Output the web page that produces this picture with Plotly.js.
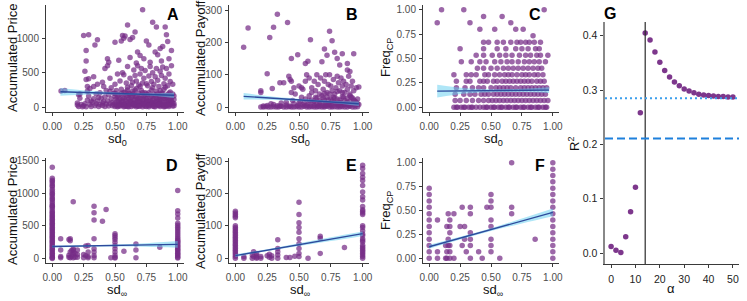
<!DOCTYPE html>
<html><head><meta charset="utf-8">
<script src="https://cdn.plot.ly/plotly-3.0.1.min.js"></script>
<style>html,body{margin:0;padding:0;background:#fff}#chart{width:747px;height:301px}</style>
</head><body><div id="chart"></div>
<script>
// ---------------- DATA ----------------
// Panel A: [sd0, accumulated price]
const priceBySd0 = [
[0.07,235],[0.10,240],[0.20,30],[0.20,60],[0.21,10],[0.22,130],[0.22,190],[0.21,180],
[0.25,20],[0.26,50],[0.27,5],[0.28,100],[0.28,230],[0.29,160],[0.30,40],[0.30,270],[0.31,10],[0.32,70],[0.33,120],[0.33,300],[0.34,20],[0.35,50],[0.35,190],[0.36,90],[0.37,10],[0.38,40],[0.38,210],[0.39,130],[0.40,25],[0.40,60],[0.41,300],[0.42,10],[0.42,150],[0.43,45],[0.43,240],[0.44,90],[0.45,15],[0.45,180],[0.46,50],[0.47,120],[0.47,280],[0.48,20],[0.48,70],[0.49,200],
[0.50,10],[0.50,60],[0.50,150],[0.51,30],[0.51,240],[0.52,90],[0.52,5],[0.53,40],[0.53,180],[0.54,120],[0.54,15],[0.55,70],[0.55,260],[0.56,30],[0.56,140],[0.57,5],[0.57,210],[0.58,50],[0.58,100],[0.59,20],[0.59,170],[0.60,60],[0.60,8],[0.60,250],[0.61,120],[0.61,35],[0.62,80],[0.62,190],[0.63,10],[0.63,140],[0.64,45],[0.64,230],[0.65,100],[0.65,20],[0.66,60],[0.66,160],[0.67,5],[0.67,270],[0.68,110],[0.68,35],[0.69,200],[0.69,75],[0.70,15],[0.70,130],[0.71,50],[0.71,240],[0.72,90],[0.72,5],[0.73,160],[0.73,30],[0.74,60],[0.74,210],[0.75,10],[0.75,120],[0.76,40],[0.76,180],[0.77,80],[0.77,5],[0.78,140],[0.78,30],[0.79,250],[0.79,60],[0.80,100],[0.80,15],[0.81,190],[0.81,45],[0.82,70],[0.82,5],[0.83,130],[0.83,230],[0.84,25],[0.84,90],[0.85,170],[0.85,50],[0.86,10],[0.86,110],[0.87,200],[0.87,35],[0.88,70],[0.88,150],[0.89,5],[0.89,260],[0.90,40],[0.90,120],[0.91,80],[0.91,20],[0.92,180],[0.92,55],[0.93,10],[0.93,100],[0.94,220],[0.94,35],[0.95,140],[0.95,70],[0.96,15],[0.96,190],[0.97,50],[0.97,110],
[0.52,25],[0.58,12],[0.62,45],[0.66,28],[0.70,40],[0.74,18],[0.78,55],[0.82,38],[0.86,62],[0.90,8],[0.94,60],[0.55,40],[0.65,55],[0.75,75],[0.85,25],[0.68,15],[0.72,65],[0.80,35],[0.88,25],[0.92,30],
[0.50,200],[0.51,120],[0.52,160],[0.53,100],[0.54,60],[0.55,200],[0.56,80],[0.57,130],[0.58,220],[0.59,90],[0.60,170],[0.61,200],[0.62,110],[0.63,70],[0.64,170],[0.65,200],[0.66,110],[0.67,150],[0.68,70],[0.69,130],[0.70,90],[0.71,170],[0.72,210],[0.73,110],[0.74,140],[0.75,190],[0.76,90],[0.77,210],[0.78,100],[0.79,160],[0.80,60],[0.81,120],[0.82,160],[0.83,80],[0.84,190],[0.85,110],[0.86,150],[0.87,90],[0.88,200],[0.89,130],[0.90,170],[0.91,140],[0.92,100],[0.93,200],[0.94,130],[0.95,100],[0.96,60],[0.97,160],[0.53,15],[0.57,35],[0.61,5],[0.65,38],[0.69,12],[0.73,48],[0.77,22],[0.81,8],[0.85,40],[0.89,45],[0.93,30],[0.97,20],[0.23,40],[0.24,5],[0.31,90],[0.37,140],[0.41,80],[0.46,230],[0.49,40],[0.28,300],[0.60,290],[0.70,300],[0.80,280],[0.90,290],[0.66,250],[0.86,240],
[0.27,400],[0.29,410],[0.33,440],[0.36,330],[0.40,360],[0.42,560],[0.44,600],[0.46,420],[0.50,330],[0.52,480],[0.54,380],[0.56,500],[0.57,470],[0.59,350],[0.60,590],[0.62,420],[0.63,310],[0.65,540],[0.66,460],[0.67,380],[0.68,600],[0.69,320],[0.70,480],[0.71,560],[0.72,350],[0.73,420],[0.74,530],[0.76,310],[0.77,450],[0.78,590],[0.79,370],[0.80,500],[0.81,330],[0.82,440],[0.83,560],[0.84,390],[0.85,300],[0.86,520],[0.87,460],[0.88,580],[0.89,340],[0.90,420],[0.91,560],[0.92,310],[0.93,480],[0.94,370],[0.95,600],[0.96,330],[0.75,340],[0.64,360],
[0.25,1040],[0.29,1050],[0.27,820],[0.34,900],[0.36,975],[0.27,670],[0.26,520],[0.44,700],[0.45,650],[0.50,940],[0.55,960],[0.56,1040],[0.57,1000],[0.58,1030],[0.60,1190],[0.62,980],[0.64,1010],[0.66,1090],[0.68,800],[0.70,750],[0.72,1410],[0.73,700],[0.75,960],[0.78,650],[0.80,1230],[0.82,800],[0.83,1160],[0.84,760],[0.86,850],[0.88,880],[0.90,1160],[0.91,1050],[0.93,700],[0.95,820],[0.62,720],[0.53,680],[0.67,640],[0.77,900],[0.87,670],[0.92,950]
];
// Panel B: [sd0, accumulated payoff]
const payoffBySd0 = [
[0.065,185],[0.10,245],[0.27,215],[0.30,247],[0.33,287],[0.41,262],[0.25,103],[0.44,150],[0.49,162],[0.55,135],[0.57,142],[0.59,208],[0.68,140],[0.70,180],[0.72,160],[0.74,235],[0.76,205],[0.78,170],[0.80,150],[0.82,130],[0.84,165],[0.88,135],[0.93,165],[0.88,115],[0.90,110],
[0.20,50],[0.20,45],[0.29,57],[0.35,75],[0.38,75],[0.42,95],[0.43,85],[0.44,80],[0.44,45],[0.47,40],[0.50,65],[0.52,60],[0.53,55],[0.55,80],[0.56,100],[0.58,90],[0.60,60],[0.62,80],[0.63,50],[0.65,70],[0.66,40],[0.67,90],[0.69,55],[0.70,80],[0.71,100],[0.72,45],[0.73,70],[0.74,100],[0.75,65],[0.76,50],[0.77,85],[0.78,40],[0.79,60],[0.80,95],[0.81,75],[0.82,50],[0.83,90],[0.84,65],[0.85,80],[0.86,45],[0.87,70],[0.88,55],[0.89,95],[0.90,40],[0.91,65],[0.92,80],[0.93,50],[0.95,60],[0.97,62],[0.64,100],[0.46,60],
[0.20,0],[0.22,0],[0.24,1],[0.26,0],[0.28,0],[0.30,1],[0.32,0],[0.34,0],[0.36,2],[0.38,0],[0.40,0],[0.42,1],[0.44,0],[0.46,0],[0.48,1],[0.50,0],[0.52,0],[0.54,2],[0.56,0],[0.58,0],[0.60,1],[0.62,0],[0.64,0],[0.66,1],[0.68,0],[0.70,0],[0.72,2],[0.74,0],[0.76,0],[0.78,1],[0.80,0],[0.82,0],[0.84,1],[0.86,0],[0.88,0],[0.90,2],[0.92,0],[0.94,0],[0.96,1],
[0.25,5],[0.30,8],[0.33,4],[0.36,12],[0.40,6],[0.43,3],[0.46,10],[0.49,5],[0.51,18],[0.53,7],[0.55,25],[0.57,10],[0.59,4],[0.61,15],[0.63,30],[0.64,8],[0.66,20],[0.68,5],[0.69,28],[0.71,12],[0.73,22],[0.74,6],[0.76,18],[0.77,30],[0.79,10],[0.80,25],[0.81,4],[0.83,15],[0.84,32],[0.85,8],[0.86,20],[0.87,12],[0.88,28],[0.89,5],[0.90,18],[0.91,30],[0.92,10],[0.93,22],[0.94,6],[0.95,15],[0.96,25],[0.97,8],[0.58,20],[0.62,5],[0.66,10],[0.70,3],[0.75,8],[0.82,12],[0.72,30],[0.78,15],
[0.52,30],[0.54,12],[0.56,5],[0.58,35],[0.60,22],[0.62,18],[0.64,28],[0.65,3],[0.67,15],[0.68,35],[0.70,20],[0.71,5],[0.73,10],[0.75,25],[0.76,3],[0.78,28],[0.80,10],[0.82,22],[0.83,4],[0.85,30],[0.86,8],[0.88,15],[0.90,6],[0.92,28],[0.94,18],[0.96,10],[0.50,12],[0.45,20],[0.40,15],[0.35,3],[0.28,10],[0.22,3],[0.60,45],[0.70,42],[0.80,48],[0.90,35],[0.74,40],[0.84,45]
];
// Panel C: rows of [FreqCP, sd0 values]
const freqRowsBySd0 = [
[0,[0.20,0.23,0.26,0.29,0.32,0.35,0.38,0.41,0.44,0.47,0.50,0.53,0.56,0.59,0.62,0.65,0.68,0.71,0.74,0.77,0.80,0.83,0.86,0.89,0.92,0.95,0.22,0.28,0.34,0.46,0.52,0.58,0.64,0.70,0.76,0.82,0.88,0.94]],
[0.067,[0.21,0.25,0.30,0.35,0.40,0.44,0.48,0.51,0.54,0.57,0.60,0.63,0.66,0.69,0.72,0.75,0.78,0.81,0.84,0.87,0.90,0.93,0.96]],
[0.133,[0.21,0.28,0.33,0.37,0.42,0.45,0.48,0.52,0.55,0.58,0.61,0.64,0.67,0.70,0.73,0.76,0.79,0.82,0.85,0.88,0.91,0.94]],
[0.2,[0.22,0.29,0.35,0.40,0.44,0.50,0.54,0.57,0.60,0.63,0.66,0.70,0.74,0.77,0.80,0.83,0.86,0.89,0.92,0.95]],
[0.267,[0.22,0.30,0.33,0.41,0.44,0.47,0.52,0.55,0.59,0.62,0.65,0.68,0.71,0.74,0.77,0.80,0.83,0.87,0.90,0.93]],
[0.333,[0.20,0.30,0.34,0.38,0.45,0.48,0.53,0.57,0.61,0.64,0.67,0.71,0.75,0.78,0.81,0.85,0.88,0.92]],
[0.4,[0.39,0.44,0.50,0.55,0.60,0.64,0.68,0.72,0.76,0.80,0.84,0.88,0.91]],
[0.467,[0.26,0.34,0.41,0.46,0.53,0.58,0.63,0.67,0.72,0.77,0.81,0.85,0.89,0.94]],
[0.533,[0.38,0.44,0.51,0.57,0.62,0.67,0.73,0.78,0.82,0.87,0.90,0.96]],
[0.6,[0.25,0.44,0.55,0.62,0.70,0.75,0.80,0.86,0.89]],
[0.667,[0.44,0.48,0.55,0.60,0.66,0.71,0.74,0.78,0.81,0.85,0.90]],
[0.733,[0.84]],
[0.8,[0.41,0.53,0.70,0.76]],
[0.867,[0.065,0.33,0.66]],
[0.933,[0.44,0.59]],
[1,[0.10,0.28,0.93]]
];
// Panel D: columns of [sdInf, price values]
const priceColsBySdInf = [
[0,[1400,1230,1200,1180,1150,1120,1100,1060,1030,1000,980,950,920,900,870,840,810,800,780,750,720,700,680,660,640,620,600,580,560,540,520,500,480,460,440,420,400,380,360,340,320,300,280,260,240,220,200,180,160,140,120,100,80,60,40,20,10,0]],
[0.067,[300,130,30,10]],[0.133,[290,50,20]],[0.143,[300,270,100,10]],[0.154,[30,120]],[0.167,[870,150,130,90,60,10]],[0.182,[80,20]],[0.2,[130,60,20]],[0.25,[60,10]],[0.267,[190,40]],[0.286,[200,100,30,10]],[0.333,[800,700,590,300,150,100,40,10]],[0.4,[570]],[0.429,[750]],[0.467,[10]],[0.5,[380,350,320,290,250,200,150,100,50,20,5]],[0.571,[110]],[0.667,[220,130,10]],[0.857,[170]],
[1,[1040,730,680,620,540,510,480,450,420,390,360,330,300,280,260,240,220,200,180,160,140,120,100,80,60,40,20,5]]
];
// Panel E: columns of [sdInf, payoff values]
const payoffColsBySdInf = [
[0,[145,140,135,130,125,100,95,90,85,80,75,70,65,60,55,50,45,40,35,30,25,20,15,10,5,0]],
[0.067,[5,0]],[0.133,[10,0]],[0.143,[20,5]],[0.167,[15,8,3,0]],[0.2,[5,0]],[0.25,[8]],[0.267,[3,12]],[0.286,[8,0]],[0.333,[57,30,20,10,0]],[0.4,[2]],[0.429,[2]],[0.467,[6]],[0.5,[173,135,110,95,80,60,45,30,15,5]],[0.571,[0]],[0.667,[68,62,15]],[0.857,[33]],
[1,[287,277,262,250,240,225,205,190,180,160,150,145,140,135,100,95,85,75,70,60,55,50,40,35,30,25,20,15,10,5,0]]
];
// Panel F: columns of [sdInf, FreqCP values]
const freqColsBySdInf = [
[0,[0.733,0.667,0.6,0.533,0.467,0.4,0.333,0.267,0.2,0.133,0.067,0]],
[0.067,[0.4,0.067,0]],[0.133,[0.133,0]],[0.143,[0.333,0.067,0]],[0.154,[0.467,0.2,0.133]],[0.167,[0.4,0.333,0.267,0.133,0.067,0]],[0.2,[0.467,0]],[0.25,[0.333]],[0.267,[0.533,0.133]],[0.286,[0.333,0.2]],[0.3,[0.067]],[0.333,[0.533,0.467,0.267,0.2,0.133,0]],[0.4,[0.067]],[0.429,[0]],[0.467,[0.533]],[0.5,[0.667,0.6,0.533,0.4,0.333,0.2,0.133,0.067]],[0.571,[0]],[0.667,[1,0.533,0.467]],[0.857,[0.2]],
[1,[1,0.933,0.867,0.8,0.733,0.667,0.6,0.533,0.467,0.4,0.333,0.267,0.2,0.133,0.067,0]]
];
// Linear fits (line + confidence band)
const fitXsd0 = [0.065,0.3,0.55,0.75,0.97];
const fitXsdInf = [0,0.25,0.5,0.75,1];
const fitA = {mid:[222,209,195,184,172], lo:[165,182,181,168,134], hi:[279,236,209,200,210]};
const fitB = {mid:[33,27,20.7,15.6,10], lo:[23,22,17,12,3], hi:[43,32,24.5,19.5,17]};
const fitC = {mid:[0.165,0.168,0.17,0.172,0.175], lo:[0.10,0.14,0.155,0.155,0.145], hi:[0.23,0.195,0.185,0.19,0.205]};
const fitD = {mid:[182,190,199,207,216], lo:[166,178,183,180,165], hi:[198,202,215,234,267]};
const fitE = {mid:[8,25,42,59,76], lo:[4,22,38,53,69], hi:[12,28,46,65,83]};
const fitF = {mid:[0.12,0.21,0.30,0.39,0.48], lo:[0.10,0.195,0.285,0.365,0.44], hi:[0.14,0.225,0.315,0.415,0.52]};
// Panel G
const alphaVals = [0,2,4,6,8,10,12,14,16,18,20,22,24,26,28,30,32,34,36,38,40,42,44,46,48,50];
const r2Vals = [0.012,0.005,0.001,0.030,0.076,0.121,0.258,0.405,0.392,0.370,0.351,0.336,0.324,0.315,0.308,0.302,0.298,0.295,0.292,0.291,0.290,0.289,0.288,0.288,0.287,0.287];
const alphaBest = 14;
const r2Dotted = 0.285;
const r2Dashed = 0.211;
// Tick labels
const sdTicks = [0,0.25,0.5,0.75,1];
const sdTickText = ['0.00','0.25','0.50','0.75','1.00'];

// ---------------- BUILD ----------------
const W = 747, H = 301;
const PURPLE = 'rgba(118,44,134,0.72)';
const FONT = 'Liberation Sans, Arial, Helvetica, sans-serif';
const px = (a,b) => [a/W, b/W];
const py = (top,bot) => [1-bot/H, 1-top/H];

function fromPairs(p){ return {x:p.map(d=>d[0]), y:p.map(d=>d[1])}; }
function fromRows(rows){ const x=[],y=[]; rows.forEach(r=>r[1].forEach(v=>{x.push(v);y.push(r[0]);})); return {x,y}; }
function fromCols(cols){ const x=[],y=[]; cols.forEach(c=>c[1].forEach(v=>{x.push(c[0]);y.push(v);})); return {x,y}; }

const traces = [];
function addPanel(n, pts, fx, fit){
  const xa = 'x'+(n===1?'':n), ya = 'y'+(n===1?'':n);
  traces.push({type:'scatter',mode:'markers',x:pts.x,y:pts.y,xaxis:xa,yaxis:ya,
    marker:{color:PURPLE,size:5.5,line:{width:0}},hoverinfo:'skip',showlegend:false,cliponaxis:false});
  traces.push({type:'scatter',mode:'lines',x:fx,y:fit.lo,xaxis:xa,yaxis:ya,line:{width:0,shape:'spline'},showlegend:false,hoverinfo:'skip'});
  traces.push({type:'scatter',mode:'lines',x:fx,y:fit.hi,xaxis:xa,yaxis:ya,line:{width:0,shape:'spline'},fill:'tonexty',fillcolor:'rgba(95,205,240,0.5)',showlegend:false,hoverinfo:'skip'});
  traces.push({type:'scatter',mode:'lines',x:fx,y:fit.mid,xaxis:xa,yaxis:ya,line:{color:'#2D4A9C',width:1.4},showlegend:false,hoverinfo:'skip'});
}
addPanel(1, fromPairs(priceBySd0), fitXsd0, fitA);
addPanel(2, fromPairs(payoffBySd0), fitXsd0, fitB);
addPanel(3, fromRows(freqRowsBySd0), fitXsd0, fitC);
addPanel(4, fromCols(priceColsBySdInf), fitXsdInf, fitD);
addPanel(5, fromCols(payoffColsBySdInf), fitXsdInf, fitE);
addPanel(6, fromCols(freqColsBySdInf), fitXsdInf, fitF);
traces.push({type:'scatter',mode:'markers',x:alphaVals,y:r2Vals,xaxis:'x7',yaxis:'y7',
  marker:{color:'rgba(118,44,134,0.95)',size:5.5},showlegend:false,hoverinfo:'skip',cliponaxis:false});

const axBase = {showgrid:false,zeroline:false,showline:true,linecolor:'#3a3a3a',linewidth:1,
  ticks:'outside',ticklen:3,tickwidth:1,tickcolor:'#3a3a3a',
  tickfont:{family:FONT,size:10,color:'#4d4d4d'},fixedrange:true};
function xax(dom, anchor, extra){ return Object.assign({},axBase,{domain:dom,anchor:anchor,range:[-0.05,1.05],tickvals:sdTicks,ticktext:sdTickText,ticklabelstandoff:2},extra||{}); }
function yax(dom, anchor, range, extra){ return Object.assign({},axBase,{domain:dom,anchor:anchor,range:range,ticklabelstandoff:1},extra||{}); }

const colX = {A:px(46,184), B:px(229,369), C:px(423,559), G:px(605,739)};
const topY = py(5,112), botY = py(158,263);

const layout = {
  width:W,height:H,margin:{l:0,r:0,t:0,b:0},paper_bgcolor:'#fff',plot_bgcolor:'rgba(0,0,0,0)',
  font:{family:FONT},showlegend:false,
  xaxis: xax(colX.A,'y'), yaxis: yax(topY,'x',[-70.5,1480.5],{tickvals:[0,500,1000]}),
  xaxis2: xax(colX.B,'y2'), yaxis2: yax(topY,'x2',[-15.5,316],{tickvals:[0,100,200,300]}),
  xaxis3: xax(colX.C,'y3'), yaxis3: yax(topY,'x3',[-0.05,1.05],{tickvals:sdTicks,ticktext:sdTickText}),
  xaxis4: xax(colX.A,'y4'), yaxis4: yax(botY,'x4',[-70,1540],{tickvals:[0,500,1000,1500]}),
  xaxis5: xax(colX.B,'y5'), yaxis5: yax(botY,'x5',[-14.7,309.7],{tickvals:[0,100,200,300]}),
  xaxis6: xax(colX.C,'y6'), yaxis6: yax(botY,'x6',[-0.05,1.05],{tickvals:sdTicks,ticktext:sdTickText}),
  xaxis7: Object.assign({},axBase,{domain:colX.G,anchor:'y7',range:[-2.5,52.5],tickvals:[0,10,20,30,40,50],ticklabelstandoff:2,tickfont:{family:FONT,size:10.5,color:'#222'}}),
  yaxis7: Object.assign({},axBase,{domain:py(22,264),anchor:'x7',range:[-0.0202,0.4252],tickvals:[0,0.1,0.2,0.3,0.4],ticktext:['0.0','0.1','0.2','0.3','0.4'],ticklabelstandoff:1,tickfont:{family:FONT,size:10.5,color:'#222'},linecolor:'#888',linewidth:1.6}),
  shapes:[
    {type:'line',xref:'x7',yref:'y7 domain',x0:alphaBest,x1:alphaBest,y0:0,y1:1,line:{color:'#2b2b2b',width:1.2}},
    {type:'line',xref:'x7 domain',yref:'y7',x0:0,x1:1,y0:r2Dotted,y1:r2Dotted,line:{color:'#3C9EEB',width:2,dash:'2px,3px'}},
    {type:'line',xref:'x7 domain',yref:'y7',x0:0,x1:1,y0:r2Dashed,y1:r2Dashed,line:{color:'#1E80DC',width:2,dash:'8px,4px'}}
  ],
  annotations:[]
};
const ann = layout.annotations;
function txt(t,x,y,opt){ ann.push(Object.assign({text:t,xref:'paper',yref:'paper',x:x/W,y:1-y/H,xanchor:'center',yanchor:'middle',showarrow:false,font:{family:FONT,size:13,color:'#111'}},opt||{})); }
// panel letters
const bold = {font:{family:FONT,size:16,color:'#000',weight:700}};
txt('<b>A</b>',173,15,bold); txt('<b>B</b>',352,15,bold); txt('<b>C</b>',535,15,bold);
txt('<b>D</b>',172,165,bold); txt('<b>E</b>',351,165,bold); txt('<b>F</b>',540,165,bold);
txt('<b>G</b>',610,14,bold);
// y titles
const rot = {textangle:-90};
txt('Accumulated Price',12,58,rot); txt('Accumulated Payoff',200,58,rot); txt('Freq<sub>CP</sub>',386,58,rot);
txt('Accumulated Price',12,211,rot); txt('Accumulated Payoff',200,211,rot); txt('Freq<sub>CP</sub>',386,211,rot);
txt('R<sup>2</sup>',574,144,rot);
// x titles
txt('sd<sub>0</sub>',117,139); txt('sd<sub>0</sub>',300,139); txt('sd<sub>0</sub>',493,139);
txt('sd<sub>∞</sub>',117,290); txt('sd<sub>∞</sub>',300,290); txt('sd<sub>∞</sub>',493,290);
txt('α',671,288);

Plotly.newPlot('chart',traces,layout,{staticPlot:true,displayModeBar:false});
</script>
</body></html>
